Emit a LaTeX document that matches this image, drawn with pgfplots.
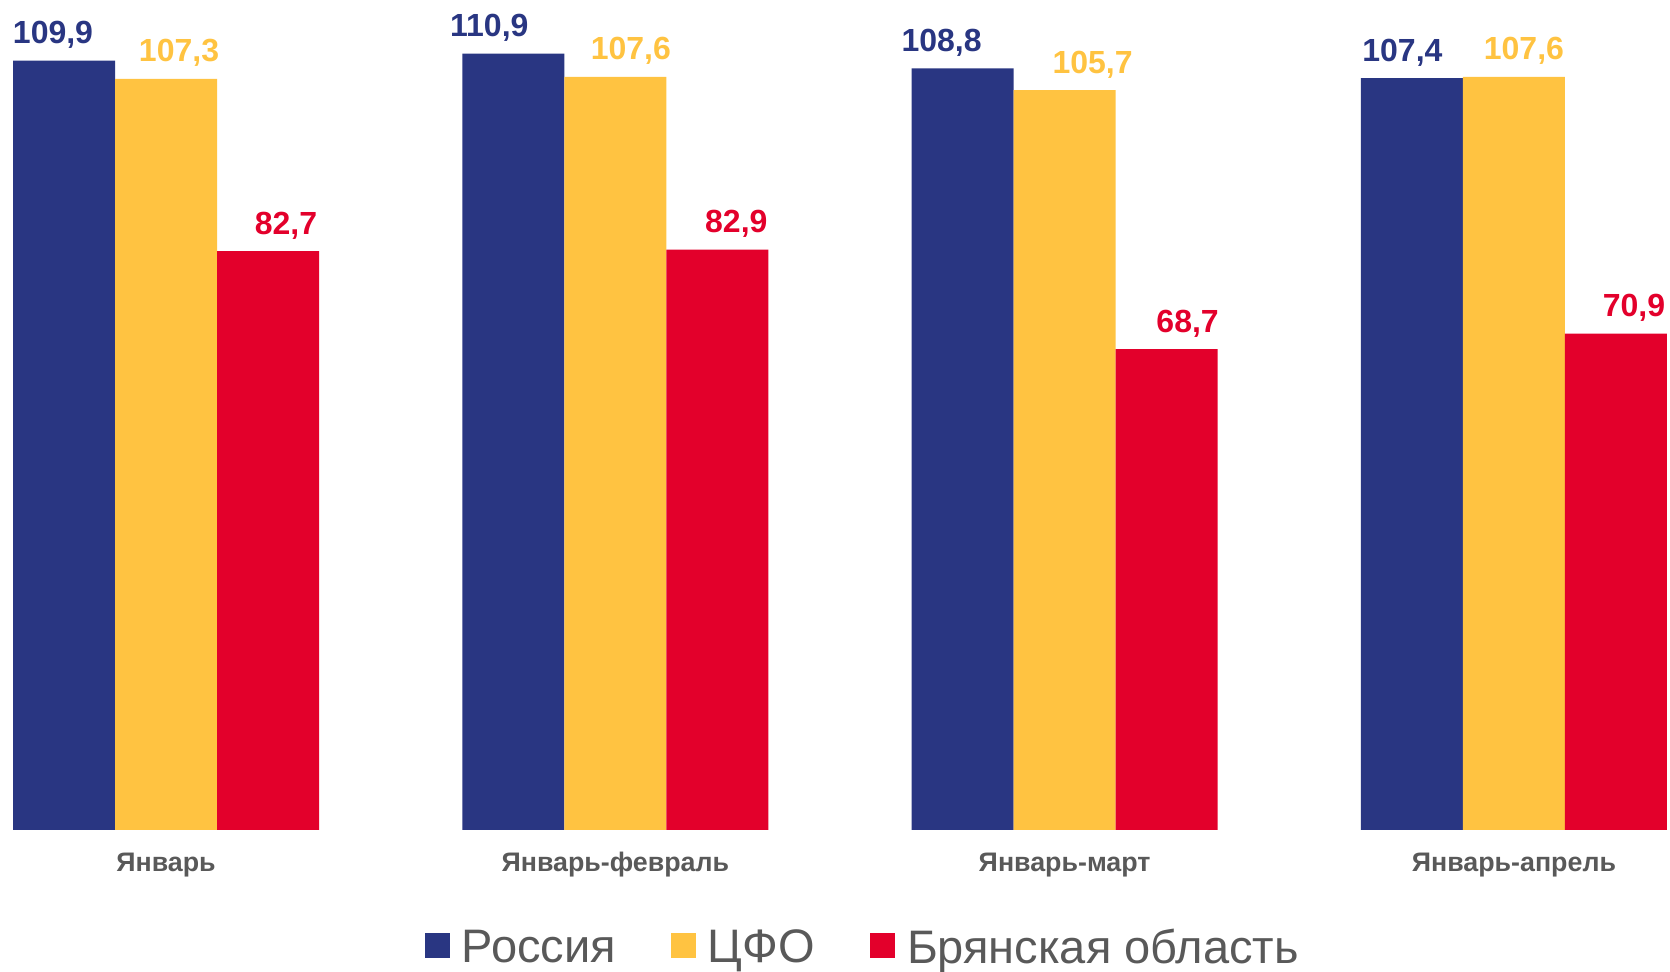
\documentclass[border=0pt]{standalone}
\usepackage{pgfplots}
\pgfplotsset{compat=1.18}
\usepackage{pgfplotstable}
\usepackage{fontspec}
\setmainfont{Liberation Sans}
\definecolor{cblue}{RGB}{41,54,130}
\definecolor{cyellow}{RGB}{255,195,65}
\definecolor{cred}{RGB}{227,0,43}
\definecolor{cgray}{RGB}{89,89,89}

\pgfplotstableread{
x y dx
0 109.9 -5.5
1 110.9 -12
2 108.8 -10.5
3 107.4 -4.75
}\russia
\pgfplotstableread{
x y dx
0 107.3 6.5
1 107.6 7.75
2 105.7 14
3 107.6 5
}\cfo
\pgfplotstableread{
x y dx
0 82.7 9
1 82.9 9.5
2 68.7 10.5
3 70.9 9
}\bryansk

\begin{document}
\begin{tikzpicture}
\useasboundingbox (0,-71pt) rectangle (835pt,415pt);
\begin{axis}[
  at={(0,0)}, anchor=south west,
  scale only axis,
  width=835pt, height=415pt,
  xmin=-0.3695, xmax=3.3474,
  ymin=0, ymax=118.57,
  clip=false,
  ybar=0pt, bar width=51pt,
  axis line style={draw=none},
  major tick length=0pt,
  ytick=\empty,
  xtick={0,1,2,3},
  xticklabels={Январь,Январь-февраль,Январь-март,Январь-апрель},
  xticklabel style={font=\bfseries\fontsize{13.4}{13.4}\selectfont, text=cgray, anchor=base, yshift=-21pt, inner sep=0pt},
  /pgf/number format/.cd, use comma, fixed, fixed zerofill, precision=1, assume math mode=true,
  /pgfplots/.cd,
  nodes near coords,
  visualization depends on={\thisrow{dx} \as \dx},
  nodes near coords style={font=\bfseries\fontsize{16}{16}\selectfont, anchor=base, inner sep=0pt, yshift=8.5pt, xshift=\dx pt},
  legend columns=3,
  legend style={at={(0.516,-0.142)}, anchor=center, draw=none, fill=none,
    font=\fontsize{23.5}{23.5}\selectfont, text=cgray,
    nodes={inner sep=0pt},
    /tikz/every odd column/.style={column sep=6pt},
    /tikz/every even column/.style={column sep=27.5pt}},
  legend image code/.code={\fill[#1] (0pt,-5.25pt) rectangle (12.5pt,7.25pt);},
]
\addplot[fill=cblue, draw=none, every node near coord/.append style={text=cblue}] table[x=x,y=y] {\russia};
\addlegendentry{Россия}
\addplot[fill=cyellow, draw=none, every node near coord/.append style={text=cyellow}] table[x=x,y=y] {\cfo};
\addlegendentry{ЦФО}
\addplot[fill=cred, draw=none, every node near coord/.append style={text=cred}] table[x=x,y=y] {\bryansk};
\addlegendentry{Брянская область}
\end{axis}
\end{tikzpicture}
\end{document}
